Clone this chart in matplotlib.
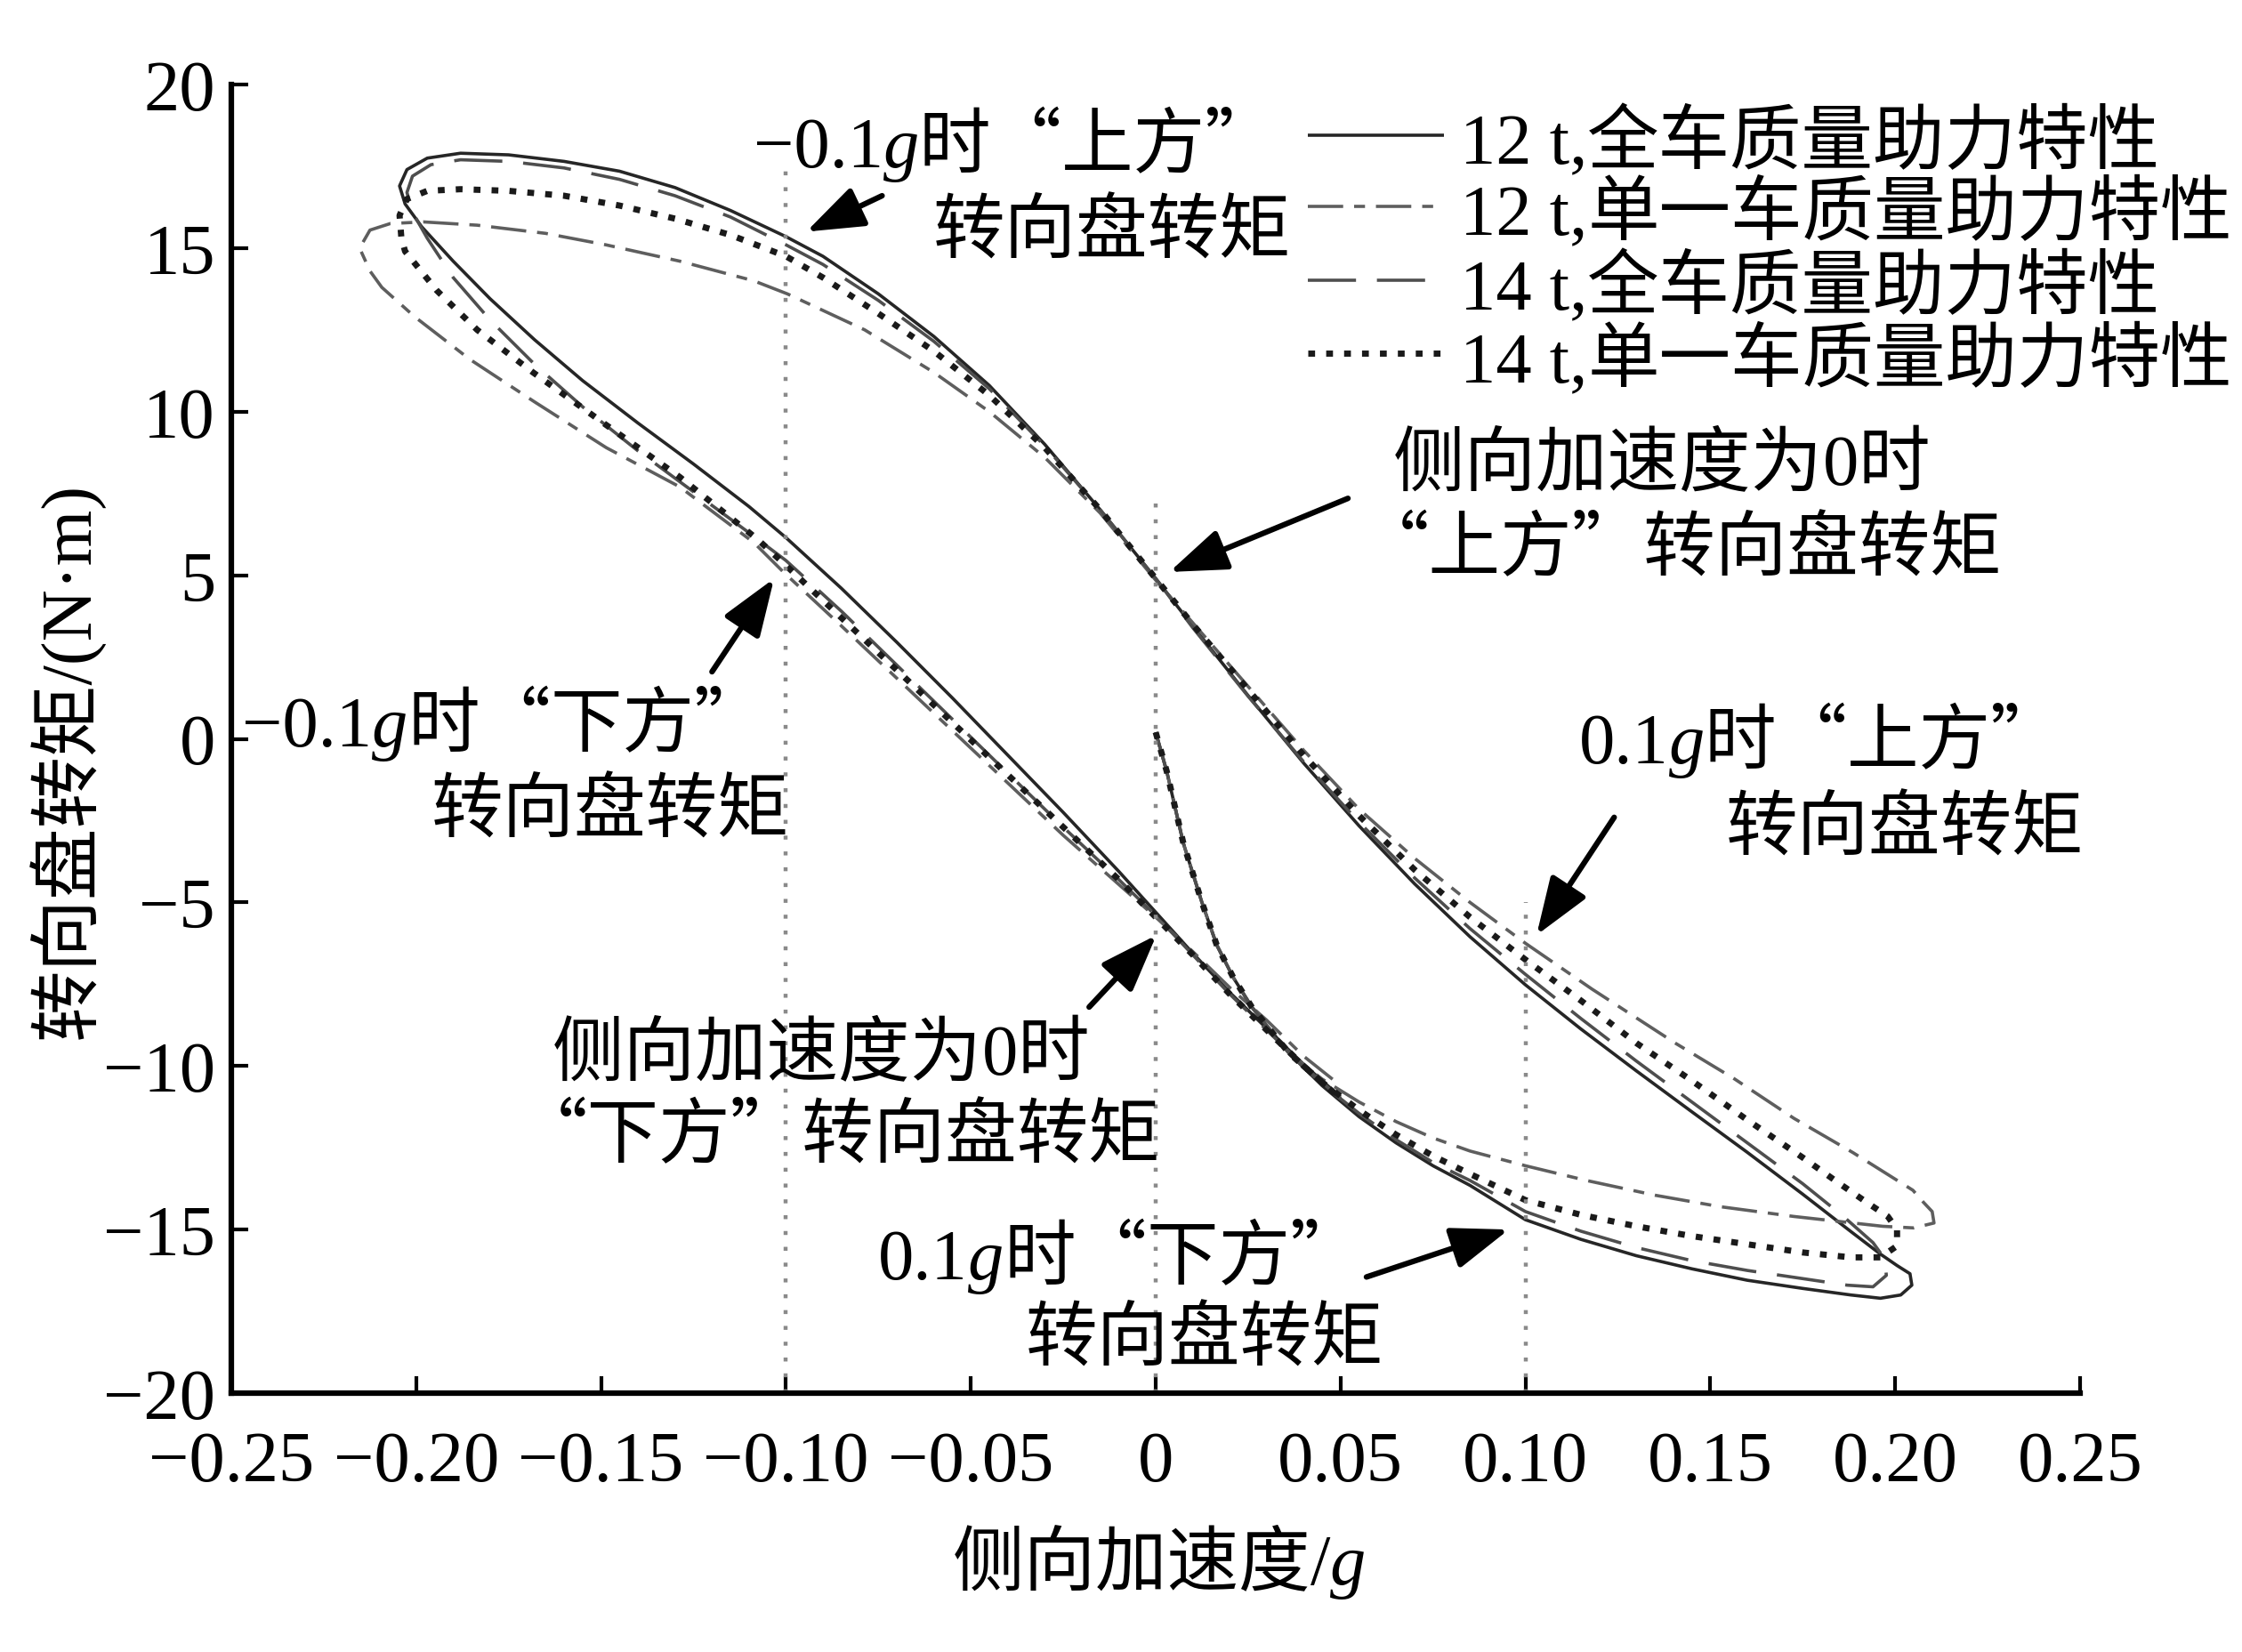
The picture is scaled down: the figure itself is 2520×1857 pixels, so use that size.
import matplotlib
matplotlib.use("Agg")
import matplotlib.pyplot as plt
from matplotlib.offsetbox import TextArea, HPacker, AnnotationBbox
from matplotlib.lines import Line2D

SERIF = ['Liberation Serif', 'Noto Sans CJK SC']
CJK = ['Noto Sans CJK SC', 'Liberation Serif']
FS = 58
plt.rcParams['font.family'] = SERIF

W, H = 2520, 1858

# ---------------- data ----------------
xticks = [-0.25, -0.20, -0.15, -0.10, -0.05, 0.0, 0.05, 0.10, 0.15, 0.20, 0.25]
xtick_labels = ['\u22120.25', '\u22120.20', '\u22120.15', '\u22120.10', '\u22120.05', '0',
                '0.05', '0.10', '0.15', '0.20', '0.25']
yticks = [-20, -15, -10, -5, 0, 5, 10, 15, 20]
ytick_labels = ['\u221220', '\u221215', '\u221210', '\u22125', '0', '5', '10', '15', '20']

# common start-up branch from zero torque
init_x = [0.000, 0.003, 0.0075, 0.0125, 0.0165, 0.021, 0.026, 0.031, 0.036]
init_y = [0.2, -1.0, -3.2, -5.0, -6.3, -7.3, -8.2, -8.9, -9.6]

# 12 t, full-vehicle-mass assist characteristic
full12_x = [0.045, 0.055, 0.065, 0.075, 0.085, 0.100, 0.115, 0.130, 0.145, 0.160, 0.175, 0.188, 0.196,
            0.2015, 0.2045, 0.204, 0.2005,
            0.196, 0.188, 0.175, 0.160, 0.145, 0.130, 0.115, 0.100, 0.085, 0.070, 0.055, 0.040, 0.025,
            0.010, 0.000,
            -0.015, -0.030, -0.045, -0.060, -0.075, -0.090, -0.100, -0.115, -0.130, -0.145, -0.160, -0.175,
            -0.188, -0.197, -0.2025, -0.2045, -0.203, -0.1985,
            -0.190, -0.180, -0.168, -0.155, -0.140, -0.125, -0.110, -0.100, -0.085, -0.070, -0.055, -0.040,
            -0.025, -0.010, 0.000, 0.010, 0.020, 0.030, 0.040, 0.050]
full12_y = [-10.6, -11.55, -12.35, -13.05, -13.65, -14.7, -15.3, -15.8, -16.2, -16.55, -16.8, -17.0, -17.1,
            -17.0, -16.7, -16.35, -16.1,
            -15.75, -15.06, -13.92, -12.64, -11.4, -10.15, -8.87, -7.52, -6.05, -4.43, -2.66, -0.74, 1.32,
            3.45, 4.9,
            7.0, 9.0, 10.8, 12.3, 13.6, 14.75, 15.35, 16.15, 16.85, 17.35, 17.65, 17.85,
            17.9, 17.75, 17.4, 16.9, 16.35, 15.65,
            14.6, 13.45, 12.2, 10.95, 9.65, 8.4, 7.1, 6.15, 4.6, 2.95, 1.25, -0.5,
            -2.25, -4.05, -5.3, -6.55, -7.75, -8.85, -9.95, -10.95]

# 12 t, single-vehicle-mass assist characteristic
single12_x = [0.045, 0.055, 0.065, 0.075, 0.085, 0.100, 0.1165, 0.135, 0.1526, 0.1726, 0.1966, 0.205,
              0.2105, 0.2100, 0.2075, 0.2048,
              0.1886, 0.1726, 0.1566, 0.1405, 0.118, 0.100, 0.085, 0.070, 0.055, 0.040, 0.025, 0.010, 0.000,
              -0.015, -0.030, -0.045, -0.060, -0.0787, -0.0996, -0.1087, -0.1287, -0.1487, -0.165, -0.1835,
              -0.198, -0.207, -0.2125, -0.2153, -0.2125,
              -0.2093, -0.2004, -0.1855, -0.168, -0.1486, -0.1287, -0.1087, -0.1007, -0.085, -0.070, -0.055,
              -0.040, -0.025, -0.010, 0.000, 0.010, 0.020, 0.030, 0.040, 0.050]
single12_y = [-10.4, -11.1, -11.7, -12.2, -12.6, -13.05, -13.5, -13.95, -14.3, -14.6, -14.9, -14.95,
              -14.8, -14.45, -14.15, -13.8,
              -12.65, -11.6, -10.4, -9.3, -7.65, -6.25, -5.0, -3.65, -2.15, -0.35, 1.6, 3.55, 4.85,
              6.9, 8.6, 10.0, 11.2, 12.5, 13.6, 14.0, 14.6, 15.1, 15.45, 15.7,
              15.8, 15.75, 15.55, 15.0, 14.3,
              13.8, 12.9, 11.6, 10.3, 8.9, 7.7, 6.0, 5.1, 3.45, 1.85, 0.25,
              -1.35, -2.95, -4.45, -5.45, -6.5, -7.6, -8.6, -9.7, -10.6]

# 14 t, full-vehicle-mass assist characteristic
full14_x = [0.045, 0.055, 0.065, 0.075, 0.085, 0.100, 0.115, 0.130, 0.145, 0.160, 0.175, 0.187, 0.194,
            0.1976, 0.1972, 0.194,
            0.186, 0.175, 0.160, 0.145, 0.130, 0.115, 0.100, 0.085, 0.070, 0.055, 0.040, 0.025, 0.010, 0.000,
            -0.015, -0.030, -0.045, -0.060, -0.075, -0.090, -0.100, -0.115, -0.130, -0.145, -0.160, -0.175,
            -0.188, -0.196, -0.201, -0.2025, -0.201, -0.197,
            -0.190, -0.180, -0.168, -0.155, -0.140, -0.125, -0.110, -0.100, -0.085, -0.070, -0.055, -0.040,
            -0.025, -0.010, 0.000, 0.010, 0.020, 0.030, 0.040, 0.050]
full14_y = [-10.55, -11.45, -12.25, -12.95, -13.5, -14.45, -15.05, -15.55, -15.95, -16.25, -16.5, -16.7, -16.75,
            -16.4, -15.9, -15.4,
            -14.6, -13.6, -12.35, -11.1, -9.85, -8.55, -7.2, -5.8, -4.25, -2.55, -0.7, 1.3, 3.4, 4.9,
            7.0, 8.95, 10.7, 12.15, 13.4, 14.5, 15.1, 15.95, 16.6, 17.1, 17.45, 17.65,
            17.7, 17.55, 17.2, 16.7, 16.1, 15.3,
            14.1, 12.8, 11.45, 10.15, 8.8, 7.55, 6.3, 5.45, 3.9, 2.25, 0.6, -1.05,
            -2.7, -4.3, -5.4, -6.6, -7.8, -8.9, -10.0, -11.0]

# 14 t, single-vehicle-mass assist characteristic
single14_x = [0.045, 0.055, 0.065, 0.075, 0.085, 0.100, 0.115, 0.130, 0.145, 0.160, 0.175, 0.188, 0.196,
              0.2005, 0.2005, 0.198,
              0.1927, 0.185, 0.175, 0.160, 0.145, 0.130, 0.115, 0.100, 0.085, 0.070, 0.055, 0.040, 0.025,
              0.010, 0.000,
              -0.015, -0.030, -0.045, -0.060, -0.075, -0.090, -0.100, -0.115, -0.130, -0.145, -0.160, -0.175,
              -0.188, -0.197, -0.2025, -0.2045, -0.204,
              -0.203, -0.1944, -0.1835, -0.1684, -0.1487, -0.1287, -0.1077, -0.100, -0.085, -0.070, -0.055,
              -0.040, -0.025, -0.010, 0.000, 0.010, 0.020, 0.030, 0.040, 0.050]
single14_y = [-10.5, -11.35, -12.1, -12.75, -13.3, -14.1, -14.55, -14.9, -15.2, -15.45, -15.7, -15.85, -15.85,
              -15.5, -15.0, -14.6,
              -14.2, -13.6, -12.8, -11.65, -10.45, -9.3, -8.0, -6.75, -5.45, -4.0, -2.35, -0.5, 1.5,
              3.5, 4.9,
              7.0, 8.9, 10.5, 11.85, 13.0, 14.1, 14.75, 15.4, 15.9, 16.3, 16.6, 16.75,
              16.8, 16.75, 16.5, 16.0, 15.3,
              14.9, 13.7, 12.5, 11.2, 9.6, 8.0, 6.1, 5.3, 3.7, 2.1, 0.5,
              -1.1, -2.7, -4.3, -5.45, -6.6, -7.8, -8.9, -10.0, -11.0]

series_labels = [('12 t,', '全车质量助力特性'),
                 ('12 t,', '单一车质量助力特性'),
                 ('14 t,', '全车质量助力特性'),
                 ('14 t,', '单一车质量助力特性')]

# reference lateral accelerations and the height of their guide lines
ref_x = [-0.10, 0.0, 0.10]
ref_top = [17.7, 7.3, -5.0]

# annotation arrows: (tail x, tail y, head x, head y)
arrows = [(-0.074, 16.6, -0.0945, 15.5),
          (0.052, 7.35, 0.0037, 5.1),
          (-0.1200, 2.05, -0.1032, 4.9),
          (-0.018, -8.2, 0.0002, -6.0),
          (0.124, -2.4, 0.103, -6.0),
          (0.057, -16.45, 0.0955, -15.0)]

# annotation text lines: (parts, centre x, centre y) -- 'r' roman, 'i' italic, 'c' CJK
notes = [([('\u22120.1', 'r'), ('g', 'i'), ('时“上方”', 'c')], -0.038, 18.12),
         ([('转向盘转矩', 'c')], -0.0119, 15.5),
         ([('侧向加速度为', 'c'), ('0', 'r'), ('时', 'c')], 0.1368, 8.42),
         ([('“上方”转向盘转矩', 'c')], 0.1418, 5.8),
         ([('\u22120.1', 'r'), ('g', 'i'), ('时“下方”', 'c')], -0.1762, 0.42),
         ([('转向盘转矩', 'c')], -0.1476, -2.2),
         ([('侧向加速度为', 'c'), ('0', 'r'), ('时', 'c')], -0.0906, -9.6),
         ([('“下方”转向盘转矩', 'c')], -0.0858, -12.13),
         ([('0.1', 'r'), ('g', 'i'), ('时“上方”', 'c')], 0.1799, -0.1),
         ([('转向盘转矩', 'c')], 0.2027, -2.75),
         ([('0.1', 'r'), ('g', 'i'), ('时“下方”', 'c')], -0.0096, -15.86),
         ([('转向盘转矩', 'c')], 0.0132, -18.35)]

# ---------------- figure ----------------
fig = plt.figure(figsize=(W / 100, H / 100), dpi=100)
ax = fig.add_axes([260 / W, 1 - 1567 / H, (2338 - 260) / W, (1567 - 96) / H])

styles = [dict(color='#262626', lw=2.6, ls='-'),
          dict(color='#5e5e5e', lw=2.6, ls=(0, (11, 3.4, 3.4, 3.4))),
          dict(color='#4e4e4e', lw=2.6, ls=(0, (15, 6.5))),
          dict(color='#1a1a1a', lw=5.0, ls=(0, (1.1, 1.8)))]
curves = [(full12_x, full12_y), (single12_x, single12_y), (full14_x, full14_y), (single14_x, single14_y)]

for (cx, cy), st in zip(curves, styles):
    ax.plot(init_x + cx, init_y + cy, solid_capstyle='butt', dash_capstyle='butt',
            solid_joinstyle='round', **st)

ax.vlines(ref_x, -20, ref_top, colors='#8a8a8a', lw=3.2, linestyles=[(0, (1, 3))])

ax.set_xlim(-0.25, 0.25)
ax.set_ylim(-20, 20)
for side in ('top', 'right'):
    ax.spines[side].set_visible(False)
for side in ('left', 'bottom'):
    ax.spines[side].set_linewidth(4.5)
ax.set_xticks(xticks)
ax.set_xticklabels(xtick_labels, fontsize=FS, family='Liberation Serif')
ax.set_yticks(yticks)
ax.set_yticklabels(ytick_labels, fontsize=FS, family='Liberation Serif')
ax.tick_params(axis='both', direction='in', length=14, width=3)
ax.tick_params(axis='y', pad=13)
ax.tick_params(axis='x', pad=30)


def rich(parts, xy, coords, align):
    kids = []
    for s, kind in parts:
        if kind == 'i':
            props = dict(fontsize=FS, family=SERIF, style='italic')
        elif kind == 'c':
            props = dict(fontsize=FS, family=CJK)
        else:
            props = dict(fontsize=FS, family=SERIF)
        kids.append(TextArea(s, textprops=props))
    pack = HPacker(children=kids, align='baseline', pad=0, sep=0)
    ab = AnnotationBbox(pack, xy, xycoords=coords, frameon=False, box_alignment=align,
                        pad=0, annotation_clip=False)
    fig.add_artist(ab)


for parts, tx, ty in notes:
    rich(parts, (tx, ty), ax.transData, (0.5, 0.5))

for tx, ty, hx, hy in arrows:
    ax.annotate('', xy=(hx, hy), xytext=(tx, ty),
                arrowprops=dict(arrowstyle='-|>,head_length=0.55,head_width=0.2', color='black',
                                lw=4.5, shrinkA=0, shrinkB=0, mutation_scale=72))

# legend
leg_rows = [152.7, 233, 315.7, 398]
for (num, name), st, py in zip(series_labels, styles, leg_rows):
    fig.add_artist(Line2D([1470 / W, 1623 / W], [1 - py / H] * 2, transform=fig.transFigure,
                          solid_capstyle='butt', dash_capstyle='butt', **st))
    rich([(num, 'r'), (name, 'c')], (1641 / W, 1 - (py + 8) / H), 'figure fraction', (0, 0.5))

# axis titles
rich([('侧向加速度', 'c'), ('/', 'r'), ('g', 'i')], (1303 / W, 1 - 1758 / H), 'figure fraction', (0.5, 0.5))
fig.text(75 / W, 1 - 855 / H, '转向盘转矩/(N·m)', rotation=90, ha='center', va='center',
         fontsize=FS, family=SERIF)

fig.savefig('out.png', dpi=100, facecolor='white')
